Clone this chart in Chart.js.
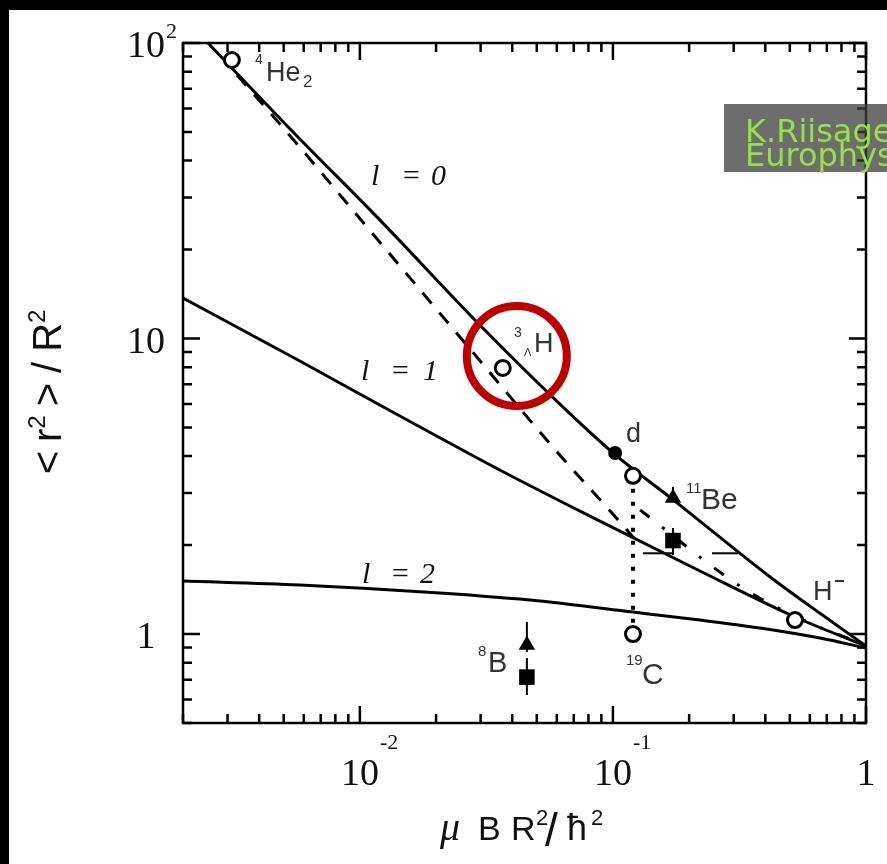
<!DOCTYPE html>
<html>
<head>
<meta charset="utf-8">
<script src="https://cdn.jsdelivr.net/npm/chart.js@4.4.0/dist/chart.umd.min.js"></script>
<style>
  html, body { margin: 0; padding: 0; background: #000; overflow: hidden; }
  #wrap { position: absolute; left: 9px; top: 10px; width: 878px; height: 854px; background: #fff; }
</style>
</head>
<body>
<div id="wrap"><canvas id="haloChart" width="878" height="854"></canvas></div>
<script>
// <r^2>/R^2 against mu B R^2 / hbar^2 for halo states

// l = 0 solid curve
const sWaveX = [0.00251, 0.00569, 0.01167, 0.0306, 0.0617, 0.1009, 0.1726, 0.418, 0.658, 1.0];
const sWaveY = [100, 48.1, 25.8, 10.85, 6.0, 4.08, 2.85, 1.56, 1.175, 0.911];

// l = 1 solid curve
const pWaveX = [0.002, 0.00579, 0.01439, 0.0357, 0.0888, 0.2207, 0.524, 1.0];
const pWaveY = [13.71, 8.39, 5.47, 3.59, 2.41, 1.634, 1.142, 0.911];

// l = 2 solid curve
const dWaveX = [0.002, 0.00579, 0.0207, 0.0514, 0.120, 0.2207, 0.381, 0.658, 1.0];
const dWaveY = [1.512, 1.465, 1.376, 1.293, 1.187, 1.115, 1.048, 0.969, 0.897];

// dashed and dash-dot curves
const dashedX = [0.00327, 0.00569, 0.00889, 0.0301, 0.0579, 0.1136, 0.121];
const dashedY = [77.9, 45.2, 28.7, 8.33, 4.29, 2.25, 2.11];
const dashDotX = [0.128, 0.3266, 0.6006, 1.0];
const dashDotY = [2.63, 1.431, 1.089, 0.918];

// measured systems
const openNames = ['4He2', '3LH', '19C', '19C', 'H-'];
const openX = [0.00312, 0.0367, 0.120, 0.120, 0.524];
const openY = [87.6, 7.95, 3.43, 1.0, 1.115];
const deuteronX = [0.102];
const deuteronY = [4.10];
const triangleX = [0.0457, 0.1727];
const triangleY = [0.918, 2.886];
const squareX = [0.0457, 0.1727];
const squareY = [0.715, 2.072];

// vertical error bars: x, low, high
const errX = [0.0457, 0.0457, 0.1727, 0.1727];
const errLow = [0.87, 0.622, 2.886, 1.851];
const errHigh = [1.098, 0.829, 3.145, 2.284];
// horizontal bars for 11Be: y, from, to
const hBarY = [1.876, 1.876];
const hBarFrom = [0.1314, 0.2462];
const hBarTo = [0.1727, 0.3119];

// 19C: link between the two estimates
const linkX = [0.120, 0.120];
const linkY = [3.43, 1.0];

// axis ticks
const xDecades = [0.001, 0.01, 0.1, 1];
const yDecades = [0.1, 1, 10, 100];
const mantissas = [1, 2, 3, 4, 5, 6, 7, 8, 9];
const xTickLabels = [
  { value: 0.01, base: '10', exp: '-2' },
  { value: 0.1, base: '10', exp: '-1' },
  { value: 1, base: '1', exp: '' }
];
const yTickLabels = [
  { value: 1, base: '1', exp: '' },
  { value: 10, base: '10', exp: '' },
  { value: 100, base: '10', exp: '2' }
];

// highlight ring around the hypertriton point
const ringX = 0.0417;
const ringY = 8.73;

const SERIF = '"Liberation Serif", "DejaVu Serif", serif';
const SANS = '"Liberation Sans", Arial, sans-serif';

function pts(xs, ys) {
  return xs.map((x, i) => ({ x: x, y: ys[i] }));
}

function curve(xs, ys, dash) {
  return {
    data: pts(xs, ys),
    showLine: true,
    borderColor: '#000',
    borderWidth: 3,
    borderDash: dash || [],
    pointRadius: 0,
    cubicInterpolationMode: 'monotone',
    fill: false
  };
}

function bar(points) {
  return {
    data: points,
    showLine: true,
    borderColor: '#000',
    borderWidth: 2,
    pointRadius: 0,
    fill: false
  };
}

const datasets = [
  {
    data: pts(openX, openY),
    pointStyle: 'circle',
    pointRadius: 7.5,
    pointBorderWidth: 3,
    pointBorderColor: '#000',
    pointBackgroundColor: '#fff',
    showLine: false
  },
  {
    data: pts(deuteronX, deuteronY),
    pointStyle: 'circle',
    pointRadius: 7,
    pointBorderWidth: 0,
    pointBackgroundColor: '#000',
    showLine: false
  },
  {
    data: pts(triangleX, triangleY),
    pointStyle: 'triangle',
    pointRadius: 9.5,
    pointBorderWidth: 0,
    pointBackgroundColor: '#000',
    showLine: false
  },
  {
    data: pts(squareX, squareY),
    pointStyle: 'rect',
    pointRadius: 11,
    pointBorderWidth: 0,
    pointBackgroundColor: '#000',
    showLine: false
  }
];

errX.forEach((x, i) => datasets.push(bar([{ x: x, y: errLow[i] }, { x: x, y: errHigh[i] }])));
hBarY.forEach((y, i) => datasets.push(bar([{ x: hBarFrom[i], y: y }, { x: hBarTo[i], y: y }])));

const link = curve(linkX, linkY, [4, 9]);
link.borderWidth = 4;
link.cubicInterpolationMode = 'default';
datasets.push(link);

datasets.push(curve(sWaveX, sWaveY));
datasets.push(curve(pWaveX, pWaveY));
datasets.push(curve(dWaveX, dWaveY));
datasets.push(curve(dashedX, dashedY, [14, 12]));
datasets.push(curve(dashDotX, dashDotY, [12, 16, 3, 16]));

// draw a string made of runs with their own font and vertical shift
function runs(ctx, parts, x, y) {
  let cx = x;
  parts.forEach(p => {
    ctx.font = p.font;
    cx += p.dx || 0;
    ctx.fillText(p.text, cx, y + (p.dy || 0));
    cx += ctx.measureText(p.text).width;
  });
  return cx - x;
}

function runsWidth(ctx, parts) {
  let w = 0;
  parts.forEach(p => {
    ctx.font = p.font;
    w += (p.dx || 0) + ctx.measureText(p.text).width;
  });
  return w;
}

function put(ctx, text, font, x, y) {
  ctx.font = font;
  ctx.fillText(text, x, y);
}

const framePlugin = {
  id: 'frame',
  afterDatasetsDraw(chart) {
    const ctx = chart.ctx;
    const xs = chart.scales.x, ys = chart.scales.y;
    const { left, right, top, bottom } = chart.chartArea;

    // highlight ring
    ctx.save();
    ctx.strokeStyle = '#c00000';
    ctx.lineWidth = 8;
    ctx.beginPath();
    ctx.arc(xs.getPixelForValue(ringX), ys.getPixelForValue(ringY), 50, 0, Math.PI * 2);
    ctx.stroke();
    ctx.restore();

    // frame and inward ticks
    ctx.save();
    ctx.strokeStyle = '#000';
    ctx.lineWidth = 2.5;
    ctx.strokeRect(left, top, right - left, bottom - top);
    ctx.beginPath();
    xDecades.forEach(d => mantissas.forEach(m => {
      const v = d * m;
      if (v < xs.min * 0.999 || v > xs.max * 1.001) return;
      const px = xs.getPixelForValue(v);
      const len = m === 1 ? 17 : 9;
      ctx.moveTo(px, bottom); ctx.lineTo(px, bottom - len);
      ctx.moveTo(px, top); ctx.lineTo(px, top + len);
    }));
    yDecades.forEach(d => mantissas.forEach(m => {
      const v = d * m;
      if (v < ys.min * 0.999 || v > ys.max * 1.001) return;
      const py = ys.getPixelForValue(v);
      const len = m === 1 ? 17 : 9;
      ctx.moveTo(left, py); ctx.lineTo(left + len, py);
      ctx.moveTo(right, py); ctx.lineTo(right - len, py);
    }));
    ctx.stroke();
    ctx.restore();

    ctx.save();
    ctx.fillStyle = '#111';
    ctx.textBaseline = 'alphabetic';

    // tick labels
    const baseFont = '38px ' + SERIF;
    const expFont = '22px ' + SERIF;
    xTickLabels.forEach(t => {
      const px = xs.getPixelForValue(t.value);
      ctx.font = baseFont;
      const w = ctx.measureText(t.base).width;
      ctx.fillText(t.base, px - w / 2, bottom + 62);
      if (t.exp) put(ctx, t.exp, expFont, px + w / 2 + 1, bottom + 26);
    });
    yTickLabels.forEach(t => {
      const py = ys.getPixelForValue(t.value);
      ctx.font = baseFont;
      const w = ctx.measureText(t.base).width;
      ctx.fillText(t.base, 137 - w / 2, py + 14);
      if (t.exp) put(ctx, t.exp, expFont, 137 + w / 2 + 1, py - 5);
    });

    // axis titles
    const tFont = '40px ' + SANS;
    const tSup = '24px ' + SANS;
    const yTitle = [
      { text: '<', font: tFont },
      { text: 'r', font: tFont, dx: 9 },
      { text: '2', font: tSup, dy: -16 },
      { text: '>', font: tFont, dx: 9 },
      { text: '/', font: tFont, dx: 10 },
      { text: 'R', font: tFont, dx: 10 },
      { text: '2', font: tSup, dy: -16 }
    ];
    ctx.save();
    ctx.translate(52, 382);
    ctx.rotate(-Math.PI / 2);
    runs(ctx, yTitle, -runsWidth(ctx, yTitle) / 2, 0);
    ctx.restore();

    const xFont = '34px ' + SANS;
    const xSup = '22px ' + SANS;
    put(ctx, '\u03bc', 'italic 40px ' + SERIF, 431, 830);
    put(ctx, 'B', xFont, 469, 830);
    put(ctx, 'R', xFont, 502, 830);
    put(ctx, '2', xSup, 527, 815);
    put(ctx, '/', '46px ' + SANS, 536, 836);
    put(ctx, '\u0127', '36px ' + SANS, 558, 830);
    put(ctx, '2', xSup, 582, 815);

    // curve labels
    const lFont = 'italic 30px ' + SERIF;
    [['0', 175, 362, 392, 422], ['1', 370, 352, 381, 414], ['2', 573, 353, 381, 411]].forEach(r => {
      put(ctx, 'l', lFont, r[2], r[1]);
      put(ctx, '=', lFont, r[3], r[1]);
      put(ctx, r[0], lFont, r[4], r[1]);
    });

    // system labels
    ctx.fillStyle = '#333';
    const nFont = '27px ' + SANS;
    put(ctx, '4', '14px ' + SANS, 246, 54);
    put(ctx, 'He', '27px ' + SANS, 257, 71);
    put(ctx, '2', '17px ' + SANS, 294, 77);

    put(ctx, '3', '14px ' + SANS, 505, 327);
    put(ctx, '\u039b', '11px ' + SANS, 515, 346);
    put(ctx, 'H', nFont, 525, 342);

    put(ctx, 'd', nFont, 617, 432);

    put(ctx, '11', '15px ' + SANS, 677, 483);
    put(ctx, 'Be', '30px ' + SANS, 692, 499);

    put(ctx, '8', '15px ' + SANS, 469, 646);
    put(ctx, 'B', '29px ' + SANS, 479, 662);

    put(ctx, '19', '15px ' + SANS, 617, 655);
    put(ctx, 'C', '30px ' + SANS, 633, 674);

    put(ctx, 'H', nFont, 804, 590);
    ctx.fillRect(826, 570, 9, 2);
    ctx.restore();

    // reference box
    ctx.save();
    ctx.fillStyle = 'rgba(60,60,60,0.75)';
    ctx.fillRect(715, 94, 170, 68);
    ctx.fillStyle = '#95e245';
    put(ctx, 'K.Riisager', '32px "DejaVu Sans", Verdana, sans-serif', 736, 132);
    put(ctx, 'Europhys. Lett.', '32px "DejaVu Sans", Verdana, sans-serif', 736, 156);
    ctx.restore();
  }
};

new Chart(document.getElementById('haloChart').getContext('2d'), {
  type: 'scatter',
  data: { datasets: datasets },
  options: {
    responsive: false,
    animation: false,
    events: [],
    layout: { padding: { top: 33, right: 21, left: 0, bottom: 0 } },
    scales: {
      x: {
        type: 'logarithmic',
        min: 0.002,
        max: 1,
        ticks: { display: false },
        grid: { display: false },
        border: { display: false },
        afterFit: function(scale) { scale.height = 141; }
      },
      y: {
        type: 'logarithmic',
        min: 0.5,
        max: 100,
        ticks: { display: false },
        grid: { display: false },
        border: { display: false },
        afterFit: function(scale) { scale.width = 174; }
      }
    },
    plugins: {
      legend: { display: false },
      tooltip: { enabled: false }
    }
  },
  plugins: [framePlugin]
});
</script>
</body>
</html>
